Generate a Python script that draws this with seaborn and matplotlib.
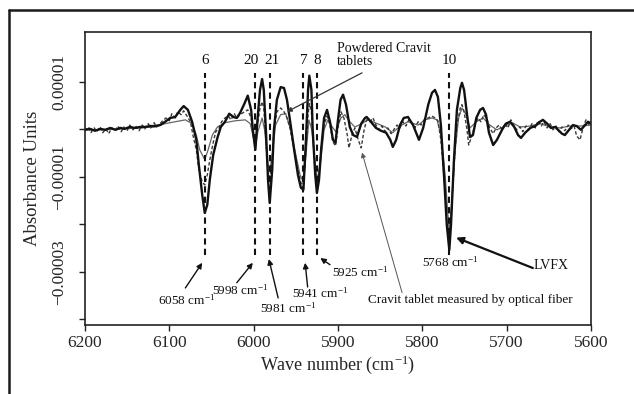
import numpy as np
import pandas as pd
import matplotlib
matplotlib.use("Agg")
import matplotlib.pyplot as plt
from matplotlib.lines import Line2D
import seaborn as sns

# ---- spectra (wave number in cm-1, absorbance in units of 1e-5) ----
solid_wn = [6200, 6194, 6188, 6182, 6176, 6170, 6164, 6158, 6153, 6147, 6141, 6135, 6129, 6123,
            6117, 6111, 6105, 6099, 6093, 6087, 6083, 6078, 6073, 6068, 6065, 6061, 6058, 6055,
            6052, 6048, 6043, 6039, 6034, 6029, 6024, 6020, 6016, 6011, 6007, 6003, 6001, 5998,
            5995.5, 5992.5, 5990, 5988, 5985.5, 5983, 5981, 5978, 5976, 5972.5, 5968, 5964,
            5960.5, 5957, 5952, 5947.5, 5944, 5941, 5938, 5935.5, 5934, 5931.5, 5930, 5927, 5925,
            5922.5, 5920, 5916.5, 5913, 5909.5, 5906, 5903, 5900, 5897, 5894, 5890.5, 5886, 5882,
            5877.5, 5872.5, 5868, 5866, 5861, 5855, 5849, 5843, 5838, 5835, 5831, 5826.5, 5822,
            5817, 5811, 5804, 5799, 5793, 5788.5, 5785, 5781.5, 5778, 5774, 5771, 5768, 5766,
            5762.5, 5759, 5755, 5753, 5750.5, 5747, 5743.5, 5740, 5736, 5731.5, 5728, 5724.5,
            5721, 5716, 5711.5, 5705.5, 5701, 5696, 5691, 5686.5, 5683, 5678, 5672, 5666, 5660.5,
            5657, 5652, 5647.5, 5642.5, 5639, 5634.5, 5631, 5626, 5621.5, 5617, 5612, 5607,
            5603.5, 5600]
solid_abs = [-0.01, 0.01, -0.03, 0.01, -0.01, 0.03, -0.01, 0.03, 0.01, 0.05, 0.03, 0.05, 0.05, 0.07,
             0.07, 0.09, 0.16, 0.24, 0.26, 0.41, 0.49, 0.41, 0.16, -0.22, -0.75, -1.38, -1.76, -1.59,
             -1.06, -0.54, -0.18, 0.05, 0.16, 0.33, 0.26, 0.24, 0.35, 0.54, 0.71, 0.41, -0.01, -0.43,
             0.20, 0.83, 1.06, 0.83, -0.01, -1.06, -1.55, -0.85, -0.01, 0.62, 0.89, 0.87,
             0.62, 0.20, -0.43, -0.96, -1.23, -1.27, -0.22, 0.83, 1.13, 0.83, -0.01, -0.96, -1.34,
             -1.06, -0.43, 0.24, 0.41, 0.16, -0.22, -0.28, 0.20, 0.62, 0.73, 0.52, 0.05, -0.12,
             -0.16, 0.12, 0.24, 0.26, 0.16, 0.03, -0.03, -0.07, -0.22, -0.37, -0.22, 0.09, 0.24,
             0.26, 0.09, -0.22, 0.03, 0.52, 0.77, 0.83, 0.68, 0.09, -1.06, -2.01, -2.54, -2.01,
             -0.64, 0.41, 0.87, 0.98, 0.83, 0.31, -0.16, -0.12, 0.24, 0.41, 0.45, 0.31,
             -0.07, -0.33, -0.22, -0.01, 0.12, 0.16, 0.05, -0.12, -0.18, -0.07, 0.03, 0.07, 0.16,
             0.20, 0.12, 0.03, 0.05, -0.01, -0.09, -0.12, -0.01, 0.09, 0.07, -0.01, 0.09,
             0.16, 0.12]

fiber_wn = [6200, 6196, 6193, 6189, 6186, 6182, 6179, 6175, 6172, 6168, 6164, 6161, 6157, 6154,
            6150, 6147, 6143, 6140, 6136, 6132, 6129, 6125, 6122, 6118, 6115, 6111, 6108, 6104,
            6100, 6097, 6093, 6090, 6086, 6083, 6079, 6075, 6072, 6068, 6065, 6061, 6058, 6055,
            6052, 6048, 6045, 6041, 6038, 6034, 6030, 6027, 6023, 6020, 6016, 6011, 6007, 6003,
            6001, 5998, 5995.5, 5992.5, 5990, 5988, 5985.5, 5983, 5981, 5978, 5976, 5972.5, 5968,
            5964, 5960.5, 5957, 5952, 5947.5, 5944, 5941, 5938, 5935.5, 5934, 5931.5, 5930, 5927,
            5925, 5922.5, 5920, 5916.5, 5913, 5909.5, 5906, 5903, 5900, 5896.5, 5893, 5889, 5887,
            5883.5, 5880, 5876, 5872.5, 5869, 5866, 5862, 5858.5, 5855, 5851.5, 5848, 5844, 5841,
            5837, 5834, 5830, 5826.5, 5823, 5819.5, 5816, 5812, 5809, 5805, 5801.5, 5798, 5793,
            5788.5, 5785, 5781.5, 5778, 5774, 5771, 5768, 5766, 5762.5, 5759, 5755, 5753, 5750.5,
            5747, 5745, 5741, 5737.5, 5734, 5730.5, 5727, 5723, 5720, 5716, 5712.5, 5709, 5705.5,
            5702, 5698.5, 5695, 5691, 5688, 5684, 5681, 5677, 5673.5, 5670, 5666, 5663, 5659, 5656,
            5652, 5648.5, 5645, 5641.5, 5638, 5634.5, 5631, 5627, 5624, 5620, 5617, 5613, 5609.5,
            5606, 5602, 5600]
fiber_abs = [-0.03, 0.05, -0.07, 0.03, -0.05, 0.05, -0.07, 0.01, -0.09, 0.03, -0.03, 0.07, -0.05, 0.05,
             -0.03, 0.09, -0.01, 0.07, -0.03, 0.09, 0.01, 0.12, 0.03, 0.14, 0.05, 0.12, 0.18, 0.24,
             0.18, 0.33, 0.24, 0.37, 0.31, 0.39, 0.28, 0.16, -0.12, -0.43, -0.85, -1.11, -1.17, -0.96,
             -0.64, -0.28, -0.05, 0.03, 0.16, 0.24, 0.28, 0.20, 0.33, 0.24, 0.31, 0.37, 0.41, 0.24,
             -0.05, -0.39, 0.09, 0.45, 0.58, 0.45, -0.22, -0.89, -1.06, -0.64, -0.01, 0.37, 0.45,
             0.37, 0.24, 0.03, -0.43, -0.85, -1.13, -1.17, -0.43, 0.31, 0.54, 0.37, -0.12, -0.85,
             -1.19, -0.96, -0.39, 0.09, 0.28, 0.09, -0.26, -0.35, 0.03, 0.37, 0.24, -0.12, -0.39,
             -0.12, 0.03, -0.22, -0.39, -0.01, 0.20, 0.16, 0.24, 0.09, -0.01, 0.07, -0.05, 0.03,
             -0.09, -0.01, 0.09, 0.03, 0.16, 0.07, 0.20, 0.12, 0.03, 0.16, 0.09, 0.20, 0.24,
             0.28, 0.24, 0.18, -0.22, -1.06, -2.01, -2.43, -1.91, -0.75, 0.09, 0.45, 0.52, 0.37,
             -0.01, -0.33, -0.12, 0.09, 0.24, 0.16, 0.31, 0.20, 0.03, -0.09, 0.03, 0.09, -0.01,
             0.12, 0.03, 0.20, 0.07, -0.01, 0.05, -0.05, 0.07, -0.01, 0.12, 0.03, 0.18, 0.07, 0.16,
             0.03, 0.12, -0.01, 0.07, -0.05, 0.05, -0.03, 0.09, 0.01, 0.07, -0.14, -0.22, 0.03,
             0.20, 0.09, 0.16]

powder_wn = [6200, 6182, 6158, 6135, 6117, 6105, 6093, 6081, 6073, 6068, 6064, 6058, 6054, 6049,
             6043, 6034, 6022, 6010, 6004, 6001, 5998, 5995, 5990, 5987, 5983, 5981, 5978, 5974,
             5968, 5962, 5956, 5950, 5945, 5941, 5938, 5934.5, 5931, 5927, 5925, 5921, 5916.5,
             5912, 5906, 5902.5, 5896.5, 5892, 5886, 5880, 5871.5, 5864.5, 5856, 5844, 5835,
             5826.5, 5817, 5805, 5797, 5788.5, 5782.5, 5778, 5773, 5768, 5765, 5761, 5757, 5753,
             5748, 5743.5, 5736, 5728, 5720, 5711.5, 5702, 5693.5, 5684, 5672, 5660.5, 5648.5,
             5637, 5625, 5613, 5600]
powder_abs = [-0.01, -0.01, 0.01, 0.03, 0.05, 0.12, 0.16, 0.20, 0.12, -0.12, -0.43, -0.64, -0.43, -0.12,
              0.05, 0.14, 0.18, 0.20, 0.12, -0.12, -0.39, -0.05, 0.24, -0.01, -0.75, -0.89, -0.54, 0.09,
              0.31, 0.33, -0.01, -0.54, -0.96, -1.11, -0.54, 0.20, -0.01, -0.75, -1.06, -0.75, -0.01,
              0.20, 0.03, -0.05, 0.24, 0.31, 0.16, 0.05, 0.12, 0.20, 0.14, 0.05, -0.07,
              0.07, 0.16, 0.09, 0.20, 0.24, 0.20, -0.12, -0.96, -2.22, -1.48, -0.43, 0.24, 0.45,
              0.31, 0.03, 0.16, 0.24, 0.09, -0.01, 0.07, 0.14, 0.05, 0.07, 0.12, 0.05,
              0.03, 0.07, 0.07, 0.09]

UNIT = 1e-5

# ---- marked bands ----
band_numbers = ["6", "20", "21", "7", "8", "10"]
band_positions = [6058, 5998, 5981, 5941, 5925, 5768]
band_label_nudge = [0, -3, 2, 0, 0, 0]   # points, keeps "20" and "21" apart

# ---- fonts ----
sns.set_theme(style="ticks")
plt.rcParams["font.family"] = ["Liberation Serif", "DejaVu Serif"]
plt.rcParams["mathtext.fontset"] = "custom"
plt.rcParams["mathtext.rm"] = "Liberation Serif"
plt.rcParams["mathtext.it"] = "Liberation Serif:italic"
plt.rcParams["axes.unicode_minus"] = True

W, H = 634, 394
fig = plt.figure(figsize=(W / 100, H / 100), dpi=100)
fig.patch.set_facecolor("white")
ax = fig.add_axes([85 / W, 1 - 325 / H, (591 - 85) / W, (325 - 32) / H])
ax.set_facecolor("white")

df_solid = pd.DataFrame({"wn": solid_wn, "a": np.array(solid_abs) * UNIT})
df_fiber = pd.DataFrame({"wn": fiber_wn, "a": np.array(fiber_abs) * UNIT})
df_powder = pd.DataFrame({"wn": powder_wn, "a": np.array(powder_abs) * UNIT})

sns.lineplot(data=df_powder, x="wn", y="a", ax=ax, color="#666666", lw=0.9,
             errorbar=None, sort=False)
sns.lineplot(data=df_fiber, x="wn", y="a", ax=ax, color="#3a3a3a", lw=1.0,
             dashes=False, errorbar=None, sort=False, linestyle=(0, (2.5, 1.5)))
sns.lineplot(data=df_solid, x="wn", y="a", ax=ax, color="#111111", lw=1.7,
             errorbar=None, sort=False)

ax.set_xlim(6200, 5600)
ax.set_ylim(-4.12 * UNIT, 2.05 * UNIT)

# axis ticks
ax.set_xticks([6200, 6100, 6000, 5900, 5800, 5700, 5600])
ax.set_xticklabels(["6200", "6100", "6000", "5900", "5800", "5700", "5600"], fontsize=12.5)
yt = [1e-5, 0, -1e-5, -2e-5, -3e-5, -4e-5]
ylabels = ["0.00001", "", "\u22120.00001", "", "\u22120.00003", ""]
ax.set_yticks(yt)
ax.set_yticklabels(ylabels, fontsize=12.5, rotation=90, va="center")
ax.tick_params(axis="x", direction="out", length=4, width=1, color="#222222", pad=3)
ax.tick_params(axis="y", direction="out", length=4, width=1, color="#222222", pad=9)
for s in ax.spines.values():
    s.set_color("#222222")
    s.set_linewidth(1.2)

ax.set_xlabel("Wave number (cm$^{-1}$)", fontsize=13, labelpad=2)
ax.set_ylabel("Absorbance Units", fontsize=13.5, labelpad=7)

# band markers
for lab, pos, dx in zip(band_numbers, band_positions, band_label_nudge):
    ax.vlines(pos, -2.64 * UNIT, 1.19 * UNIT, colors="#111111", linestyles=(0, (3, 2)), lw=1.5)
    ax.annotate(lab, xy=(pos, 1.46 * UNIT), xytext=(dx, 0), textcoords="offset points",
                ha="center", va="center", fontsize=11, color="#111111")

arrow_kw = dict(arrowstyle="-|>", color="#111111", lw=1.0, mutation_scale=8,
                shrinkA=0, shrinkB=0)


def arrow(tail, tip, **kw):
    props = dict(arrow_kw)
    props.update(kw)
    ax.annotate("", xy=(tip[0], tip[1] * UNIT), xytext=(tail[0], tail[1] * UNIT),
                arrowprops=props)


def label(x, y, s, **kw):
    ax.text(x, y * UNIT, s, fontsize=kw.pop("fontsize", 9.5), color="#111111", **kw)


# wavenumber call-outs
label(6080, -3.59, "6058 cm$^{-1}$", ha="center", va="center")
arrow((6081, -3.34), (6061, -2.81))
label(6016, -3.38, "5998 cm$^{-1}$", ha="center", va="center")
arrow((6020, -3.23), (6001, -2.81))
label(5959, -3.76, "5981 cm$^{-1}$", ha="center", va="center")
arrow((5971, -3.55), (5982, -2.73))
label(5921, -3.46, "5941 cm$^{-1}$", ha="center", va="center")
arrow((5936, -3.32), (5939, -2.81))
label(5874, -3.0, "5925 cm$^{-1}$", ha="center", va="center")
arrow((5909.5, -2.85), (5921, -2.71))
label(5767, -2.79, "5768 cm$^{-1}$", ha="center", va="center")

# sample call-outs
label(5647, -2.87, "LVFX", ha="center", va="center", fontsize=10)
arrow((5669, -2.92), (5760, -2.28), lw=1.6, mutation_scale=10)
label(5743, -3.59, "Cravit tablet measured by optical fiber", ha="center", va="center",
      fontsize=9.5)
arrow((5824, -3.44), (5871.5, -0.49), lw=0.7, color="#555555", mutation_scale=7)
label(5901, 1.57, "Powdered Cravit\ntablets", ha="left", va="center", fontsize=10,
      linespacing=0.95)
arrow((5871.5, 1.19), (5960.5, 0.37), lw=0.9, color="#333333", mutation_scale=7)

# outer frame
fig.add_artist(Line2D([9 / W, 9 / W], [0, 1 - 10 / H], transform=fig.transFigure,
                      color="#1a1a1a", lw=1.8))
fig.add_artist(Line2D([9 / W, 1], [1 - 10 / H, 1 - 10 / H], transform=fig.transFigure,
                      color="#1a1a1a", lw=1.8))

fig.savefig("out.png", dpi=100, facecolor="white")
